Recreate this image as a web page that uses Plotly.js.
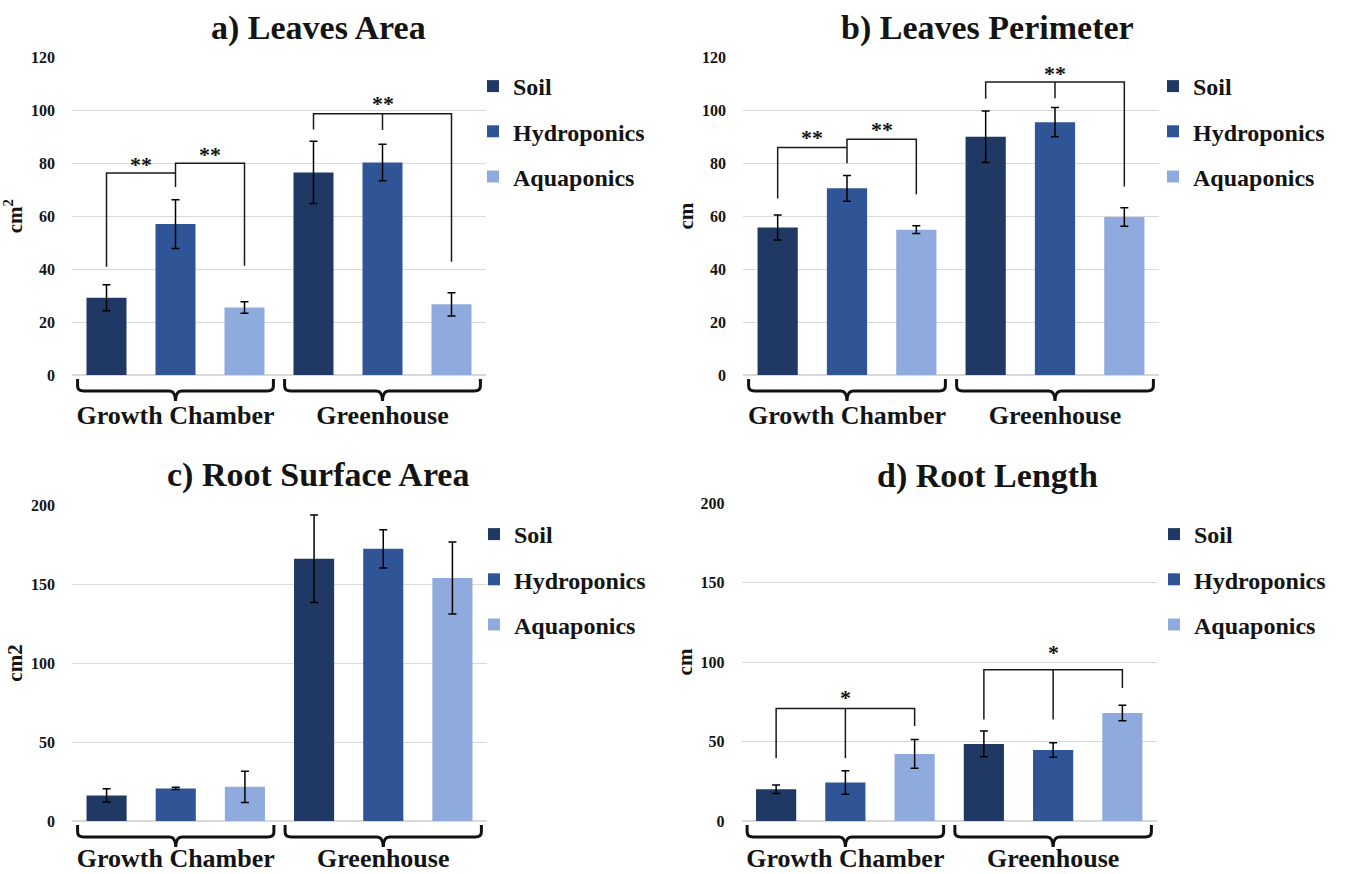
<!DOCTYPE html>
<html><head><meta charset="utf-8">
<script src="https://cdn.plot.ly/plotly-3.0.1.min.js"></script>
<style>html,body{margin:0;padding:0;background:#fff}</style>
</head><body><div id="chart" style="width:1354px;height:874px"></div>
<script>
// ---------- data ----------
const locations = ["Growth Chamber", "Greenhouse"];
const systems = ["Soil", "Hydroponics", "Aquaponics"];
const panelTitles = ["a) Leaves Area", "b) Leaves Perimeter", "c) Root Surface Area", "d) Root Length"];
const unitLabels = ["cm<sup>2</sup>", "cm", "cm2", "cm"];

// a) Leaves Area
const areaSoil = [29.2, 76.5];   const areaSoilErr = [4.9, 11.75];
const areaHydro = [57.0, 80.3];  const areaHydroErr = [9.2, 6.9];
const areaAqua = [25.5, 26.7];   const areaAquaErr = [2.2, 4.4];
// b) Leaves Perimeter
const perimSoil = [55.7, 90.0];  const perimSoilErr = [4.75, 9.75];
const perimHydro = [70.5, 95.5]; const perimHydroErr = [4.85, 5.55];
const perimAqua = [54.9, 59.7];  const perimAquaErr = [1.45, 3.5];
// c) Root Surface Area
const rsaSoil = [16.2, 166.0];   const rsaSoilErr = [4.2, 27.7];
const rsaHydro = [20.6, 172.3];  const rsaHydroErr = [0.7, 12.1];
const rsaAqua = [21.6, 153.8];   const rsaAquaErr = [9.85, 22.8];
// d) Root Length
const rlSoil = [20.0, 48.5];     const rlSoilErr = [2.65, 8.1];
const rlHydro = [24.2, 44.7];    const rlHydroErr = [7.45, 4.55];
const rlAqua = [42.2, 67.9];     const rlAquaErr = [9.05, 4.85];

// significance brackets: points [locationIndex, systemIndex, value]
const bracketsA = [
  [[0,0,40.9],[0,0,76.3],[0,1,76.3]],
  [[0,1,71],[0,1,80],[0,2,80],[0,2,41.3]],
  [[1,0,92.7],[1,0,98.7],[1,2,98.7],[1,2,42.8]],
  [[1,1,98.7],[1,1,92.5]]
];
const starsA = [[0,0.5,80.5,"**"],[0,1.5,84.6,"**"],[1,1,103.8,"**"]];
const bracketsB = [
  [[0,0,66.7],[0,0,85.9],[0,1,85.9]],
  [[0,1,80],[0,1,89],[0,2,89],[0,2,68.3]],
  [[1,0,104.3],[1,0,110.7],[1,2,110.7],[1,2,71.2]],
  [[1,1,110.7],[1,1,104.5]]
];
const starsB = [[0,0.5,90.7,"**"],[0,1.5,93.8,"**"],[1,1,115.2,"**"]];
const bracketsC = [];
const starsC = [];
const bracketsD = [
  [[0,0,39.5],[0,0,70.8],[0,2,70.8],[0,2,59.7]],
  [[0,1,70.8],[0,1,39.5]],
  [[1,0,63.9],[1,0,95.2],[1,2,95.2],[1,2,83.6]],
  [[1,1,95.2],[1,1,63.9]]
];
const starsD = [[0,1,79.6,"*"],[1,1,108,"*"]];

const yMax = [120, 120, 200, 200];
const yStep = [20, 20, 50, 50];

// ---------- build ----------
const panels = [
  {vals:[areaSoil,areaHydro,areaAqua], errs:[areaSoilErr,areaHydroErr,areaAquaErr], br:bracketsA, st:starsA},
  {vals:[perimSoil,perimHydro,perimAqua], errs:[perimSoilErr,perimHydroErr,perimAquaErr], br:bracketsB, st:starsB},
  {vals:[rsaSoil,rsaHydro,rsaAqua], errs:[rsaSoilErr,rsaHydroErr,rsaAquaErr], br:bracketsC, st:starsC},
  {vals:[rlSoil,rlHydro,rlAqua], errs:[rlSoilErr,rlHydroErr,rlAquaErr], br:bracketsD, st:starsD}
];
const colors = ["#203864", "#2F5597", "#8FAADC"];
const FONT = "Liberation Serif, Times New Roman, serif";
const INK = "#141414";
const W = 1354, H = 874;
// pixel boxes of the four plot areas: [left, right, top, bottom]
const boxes = [[72,486,57.3,375],[743,1159,57.3,375],[72,487,505,821],[741.5,1157,503,821]];
const legendPos = [[473,64],[1153,64],[474,512],[1154,512]];
const titleCenters = [[318,28],[987,28],[318,475],[987,476]];
const catStandoff = [22, 22, 19, 19];

const data = [];
const layout = {
  width: W, height: H, margin:{l:0,r:0,t:0,b:0},
  paper_bgcolor:"#fff", plot_bgcolor:"#fff",
  barmode:"group", bargap:0, bargroupgap:0.42,
  showlegend:true, shapes:[], annotations:[],
  font:{family:FONT, color:INK}
};
const xPos = (loc, sys) => loc + (sys - 1) / 3;

panels.forEach((p, i) => {
  const sfx = i === 0 ? "" : String(i + 1);
  const xa = "x" + sfx, ya = "y" + sfx, lg = "legend" + sfx;
  systems.forEach((s, k) => {
    data.push({
      type:"bar", name:s, x:locations, y:p.vals[k],
      xaxis:xa, yaxis:ya, legend:lg, legendgroup:"p"+i+"s"+k,
      marker:{color:colors[k]},
      error_y:{type:"data", array:p.errs[k], visible:true, color:"#000", thickness:1.5, width:4},
      hoverinfo:"name+y"
    });
  });
  const b = boxes[i];
  layout["xaxis"+sfx] = {
    domain:[b[0]/W, b[1]/W], anchor:ya, type:"category", range:[-0.5,1.5],
    showgrid:false, zeroline:false, showline:false, ticks:"",
    tickfont:{family:FONT, size:26, weight:"bold", color:INK},
    ticklabelstandoff:catStandoff[i], fixedrange:true
  };
  layout["yaxis"+sfx] = {
    domain:[(H-b[3])/H, (H-b[2])/H], anchor:xa, range:[0,yMax[i]], tick0:0, dtick:yStep[i],
    showgrid:true, gridcolor:"#d9d9d9", gridwidth:1,
    zeroline:true, zerolinecolor:"#d9d9d9", zerolinewidth:1.5, showline:false, ticks:"",
    tickfont:{family:FONT, size:16, weight:"bold", color:INK},
    ticklabelstandoff:16, fixedrange:true,
    title:{text:unitLabels[i], font:{family:FONT, size:21, weight:"bold", color:INK}, standoff:2}
  };
  const lp = legendPos[i];
  layout[lg] = {
    x:lp[0]/W, y:(H-lp[1])/H, xanchor:"left", yanchor:"top",
    font:{family:FONT, size:24, weight:"bold", color:INK},
    bgcolor:"rgba(0,0,0,0)", traceorder:"grouped", tracegroupgap:11,
    itemclick:false, itemdoubleclick:false
  };
  // title
  const tc = titleCenters[i];
  layout.annotations.push({
    text:panelTitles[i], xref:"paper", yref:"paper", x:tc[0]/W, y:(H-tc[1])/H,
    xanchor:"center", yanchor:"middle", showarrow:false,
    font:{family:FONT, size:34, weight:"bold", color:INK}
  });
  // braces below each location
  locations.forEach((loc, g) => {
    const x0 = g - 0.473, x1 = g + 0.473, d = 0.03;
    const path = `M${x0},-4 V-11 Q${x0},-16 ${x0+d},-16 H${g-d} Q${g},-16 ${g},-26 Q${g},-16 ${g+d},-16 H${x1-d} Q${x1},-16 ${x1},-11 V-4`;
    layout.shapes.push({
      type:"path", xref:xa, yref:ya+" domain", ysizemode:"pixel", yanchor:0,
      path:path, line:{color:"#111", width:3}
    });
  });
  // significance brackets
  p.br.forEach(pts => {
    const path = pts.map((q, j) => (j ? "L" : "M") + xPos(q[0], q[1]) + "," + q[2]).join(" ");
    layout.shapes.push({type:"path", xref:xa, yref:ya, path:path, line:{color:"#1a1a1a", width:1.5}});
  });
  p.st.forEach(q => {
    layout.annotations.push({
      text:q[3], xref:xa, yref:ya, x:xPos(q[0], q[1]), y:q[2], yshift:-3,
      xanchor:"center", yanchor:"middle", showarrow:false,
      font:{family:FONT, size:22, weight:"bold", color:INK}
    });
  });
});

Plotly.newPlot("chart", data, layout, {staticPlot:true, displayModeBar:false});
</script></body></html>
